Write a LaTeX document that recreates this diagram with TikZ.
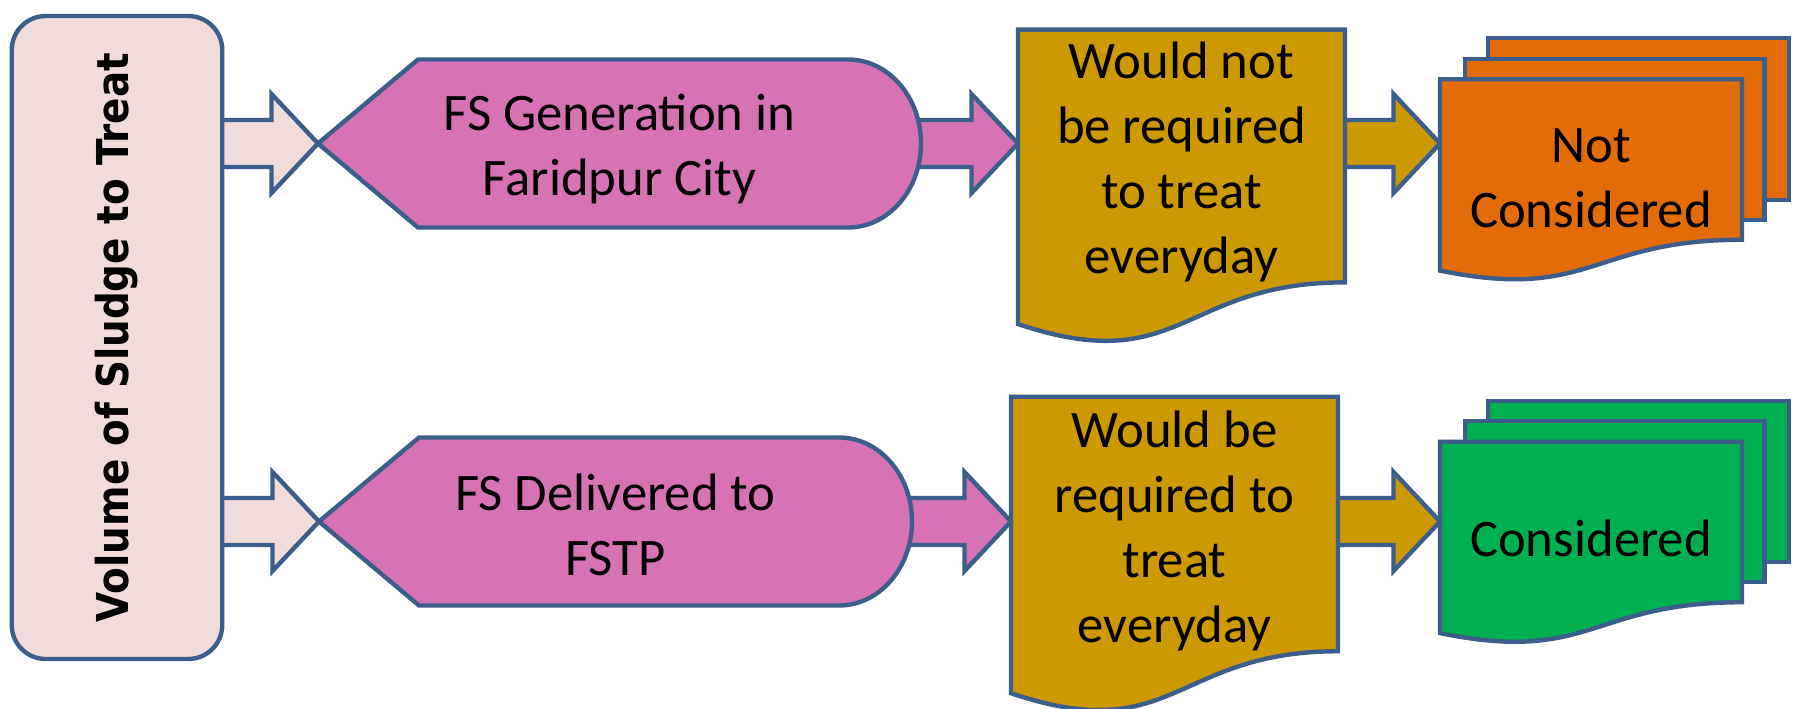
\documentclass[tikz,border=0pt]{standalone}
\usepackage{fontspec}
\setmainfont{Carlito}
\newfontfamily\sidefont{DejaVu Sans}
\usepackage{graphicx}
\usetikzlibrary{calc,backgrounds}
\definecolor{cEdge}{HTML}{3B5E8C}
\definecolor{cBlush}{HTML}{F2DCDB}
\definecolor{cOrchid}{HTML}{D773B5}
\definecolor{cGold}{HTML}{CC9900}
\definecolor{cOrange}{HTML}{E36C09}
\definecolor{cGreen}{HTML}{00B050}
\tikzset{
  shp/.style={draw=cEdge,fill=#1,line width=2.5pt},
  lbl/.style={font=\fontsize{30}{37}\selectfont,align=center,inner sep=0pt,outer sep=0pt,text=black},
  dispbox/.style={lbl,minimum width=#1,minimum height=3.36cm},
  docbox/.style={lbl,minimum width=6.54cm},
  stackbox/.style={lbl,minimum width=6.04cm,minimum height=3.21cm},
}
% invisible strut on the first line: pushes the text block down
\newcommand{\lineroom}[1]{\rule{0pt}{#1}}
% block arrow: body starts inside node #1, tip at point #2
\newcommand{\blockarrow}[3]{%
  \path[shp=#3] let \p1=(#1.east), \p2=(#2) in
    (\x1-0.2cm,\y2+0.47cm) -- (\x2-0.93cm,\y2+0.47cm) -- (\x2-0.93cm,\y2+0.99cm) -- (\p2)
    -- (\x2-0.93cm,\y2-0.99cm) -- (\x2-0.93cm,\y2-0.47cm) -- (\x1-0.2cm,\y2-0.47cm) -- cycle;}
% pointed left end, half-ellipse right end
\newcommand{\displayshape}[2]{%
  \path[shp=#2] let \p1=(#1.south west), \p2=(#1.north east) in
    (#1.west) -- (\x1+2cm,\y2) -- (\x2-1.46cm,\y2)
    arc[start angle=90,end angle=-90,x radius=1.46cm,y radius=1.68cm]
    -- (\x1+2cm,\y1) -- cycle;}
% page with wavy bottom: #3 = dip of the wave, #4 = drop at the left corner
\newcommand{\docshape}[4]{%
  \path[shp=#2] let \p1=(#1.north west), \p2=(#1.south east), \n1={\y1-\y2} in
    (\p1) -- (\x2,\y1) -- (\p2)
    .. controls ({(\x1+\x2)/2},\y2) and ({(\x1+\x2)/2},\y2-#3*\n1) ..
    (\x1,\y2-#4*\n1) -- cycle;}
% three stacked pages
\newcommand{\stackshape}[2]{%
  \path[shp=#2] ([shift={(0.96cm,0.82cm)}]#1.north west) rectangle ([shift={(0.94cm,0.80cm)}]#1.south east);
  \path[shp=#2] ([shift={(0.50cm,0.41cm)}]#1.north west) rectangle ([shift={(0.45cm,0.40cm)}]#1.south east);
  \docshape{#1}{#2}{0.385}{0.192}}

\begin{document}
\begin{tikzpicture}[x=1cm,y=1cm]
  \useasboundingbox (0,0) rectangle (35.88,14.16);
  \node[shp=cBlush,rounded corners=0.68cm,minimum width=4.21cm,minimum height=12.86cm,inner sep=0pt] (vol) at (2.34,7.41)
    {\rotatebox{90}{\scalebox{0.885}[1]{\sidefont\bfseries\fontsize{25}{29}\selectfont Volume of Sludge to Treat}}};
  % upper row
  \node[dispbox=12.06cm] (gen) at (12.39,11.29) {\lineroom{27pt}FS Generation in\\Faridpur City};
  \node[docbox,minimum height=4.76cm] (needno) at (23.63,11.04) {\lineroom{28pt}Would not\\be required\\to treat\\everyday};
  \node[stackbox] (notcons) at (31.82,10.97) {\lineroom{41pt}Not\\Considered};
  % lower row
  \node[dispbox=11.86cm] (deliv) at (12.31,3.73) {\lineroom{25pt}FS Delivered to\\FSTP};
  \node[docbox,minimum height=4.96cm] (needyes) at (23.49,3.68) {\lineroom{29pt}Would be\\required to\\treat\\everyday};
  \node[stackbox] (cons) at (31.82,3.72) {\lineroom{40pt}Considered};
  \begin{scope}[on background layer]
    \blockarrow{vol}{gen.west}{cBlush}
    \blockarrow{gen}{needno.west |- gen}{cOrchid}
    \blockarrow{needno}{notcons.west |- gen}{cGold}
    \blockarrow{vol}{deliv.west}{cBlush}
    \blockarrow{deliv}{needyes.west |- deliv}{cOrchid}
    \blockarrow{needyes}{cons.west |- deliv}{cGold}
    \displayshape{gen}{cOrchid}
    \displayshape{deliv}{cOrchid}
    \docshape{needno}{cGold}{0.381}{0.165}
    \docshape{needyes}{cGold}{0.381}{0.165}
    \stackshape{notcons}{cOrange}
    \stackshape{cons}{cGreen}
  \end{scope}
\end{tikzpicture}
\end{document}
